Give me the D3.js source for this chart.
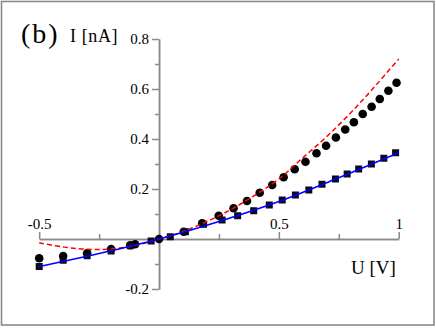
<!DOCTYPE html>
<html lang="en">
	<head>
		<meta charset="utf-8">
		<title>I-U curve (b)</title>
		<script type="text/javascript" src="https://cdn.jsdelivr.net/npm/d3@7"></script>
		<style type="text/css">
			body { margin: 0; background: #fff; }
			text { font-family: "Liberation Serif", "DejaVu Serif", serif; fill: #000; }
		</style>
	</head>
	<body>
		<script type="text/javascript">

			// measured points, circles
			var circU = [-0.5, -0.4, -0.3, -0.2, -0.12, -0.1, 0, 0.103, 0.18, 0.249, 0.311, 0.367, 0.42, 0.472,
				0.52, 0.566, 0.611, 0.657, 0.697, 0.738, 0.777, 0.813, 0.85, 0.887, 0.921, 0.957, 0.991];
			var circI = [-0.077, -0.068, -0.057, -0.04, -0.025, -0.021, 0, 0.029, 0.063, 0.093, 0.123, 0.152, 0.185, 0.216,
				0.247, 0.279, 0.309, 0.343, 0.373, 0.406, 0.438, 0.467, 0.5, 0.529, 0.56, 0.593, 0.625];

			// measured points, squares
			var sqU = [-0.5, -0.4, -0.3, -0.2, -0.12, -0.033, 0.047, 0.11, 0.186, 0.263, 0.328, 0.395, 0.46,
				0.514, 0.569, 0.625, 0.68, 0.736, 0.785, 0.833, 0.886, 0.938, 0.987];
			var sqI = [-0.11, -0.085, -0.067, -0.048, -0.027, -0.008, 0.009, 0.029, 0.059, 0.076, 0.093, 0.113, 0.136,
				0.156, 0.176, 0.196, 0.219, 0.24, 0.26, 0.28, 0.3, 0.323, 0.345];

			// fit curves
			var redU = [-0.5, -0.4, -0.3, -0.2, -0.1, 0, 0.1, 0.2, 0.3, 0.4, 0.5, 0.6, 0.7, 0.8, 0.9, 1.0];
			var redI = [-0.015, -0.032, -0.041, -0.04, -0.026, 0, 0.03, 0.07, 0.118, 0.175, 0.24, 0.325, 0.41, 0.505, 0.61, 0.72];
			var blueU = [-0.5, -0.25, 0, 0.25, 0.5, 0.75, 1.0];
			var blueI = [-0.11, -0.058, 0, 0.07, 0.15, 0.245, 0.345];

			var xMajor = [-0.5, 0.5, 1];
			var xMinor = [-0.25, 0, 0.25, 0.75];
			var yMajor = [-0.2, 0.2, 0.4, 0.6, 0.8];
			var yMinor = [-0.1, 0.1, 0.3, 0.5, 0.7];

			var w = 436;
			var h = 328;

			var xScale = d3.scaleLinear().domain([-0.5, 1]).range([39.2, 398.7]);
			var yScale = d3.scaleLinear().domain([-0.2, 0.8]).range([289, 39]);

			var svg = d3.select("body")
						.append("svg")
						.attr("width", w)
						.attr("height", h);

			//frame
			svg.append("rect")
				.attr("x", 1.5).attr("y", 1.5)
				.attr("width", 432.5).attr("height", 323.5)
				.attr("fill", "none")
				.attr("stroke", "#8a8a8a")
				.attr("stroke-width", 1.6);

			function fmt(d) { return String(d); }

			//Y axis
			var yAxis = d3.axisLeft(yScale).tickValues(yMajor).tickSize(7).tickSizeOuter(0).tickFormat(fmt);
			var yAxisMinor = d3.axisLeft(yScale).tickValues(yMinor).tickSize(4).tickSizeOuter(0).tickFormat("");
			svg.append("g").attr("transform", "translate(" + xScale(0) + ",0)").call(yAxis);
			svg.append("g").attr("transform", "translate(" + xScale(0) + ",0)").call(yAxisMinor);

			//X axis
			var xAxis = d3.axisTop(xScale).tickValues(xMajor).tickSize(7).tickSizeOuter(0).tickFormat(fmt);
			var xAxisMinor = d3.axisTop(xScale).tickValues(xMinor).tickSize(5).tickSizeOuter(0).tickFormat("");
			svg.append("g").attr("transform", "translate(0," + yScale(0) + ")").call(xAxis);
			svg.append("g").attr("transform", "translate(0," + yScale(0) + ")").call(xAxisMinor);

			svg.selectAll(".domain, .tick line")
				.attr("stroke", "#8a8a8a")
				.attr("stroke-width", 1.5);
			svg.selectAll(".tick text")
				.style("font-family", "'Liberation Serif', serif")
				.style("font-size", "15px")
				.attr("fill", "#000");

			//markers
			var circles = circU.map(function(u, i) { return [u, circI[i]]; });
			var squares = sqU.map(function(u, i) { return [u, sqI[i]]; });

			svg.selectAll("circle.pt")
				.data(circles)
				.enter()
				.append("circle")
				.attr("class", "pt")
				.attr("cx", function(d) { return xScale(d[0]); })
				.attr("cy", function(d) { return yScale(d[1]); })
				.attr("r", 4.3)
				.attr("fill", "#000");

			svg.selectAll("rect.pt")
				.data(squares)
				.enter()
				.append("rect")
				.attr("class", "pt")
				.attr("x", function(d) { return xScale(d[0]) - 3.5; })
				.attr("y", function(d) { return yScale(d[1]) - 3.5; })
				.attr("width", 7)
				.attr("height", 7)
				.attr("fill", "#0a0a1a");

			//curves
			var line = d3.line()
				.x(function(d) { return xScale(d[0]); })
				.y(function(d) { return yScale(d[1]); })
				.curve(d3.curveCatmullRom);

			svg.append("path")
				.datum(redU.map(function(u, i) { return [u, redI[i]]; }))
				.attr("d", line)
				.attr("fill", "none")
				.attr("stroke", "#ff0000")
				.attr("stroke-width", 1.5)
				.attr("stroke-dasharray", "5,3");

			svg.append("path")
				.datum(blueU.map(function(u, i) { return [u, blueI[i]]; }))
				.attr("d", line)
				.attr("fill", "none")
				.attr("stroke", "#0000ff")
				.attr("stroke-width", 1.5);

			//labels
			svg.append("text").attr("x", 21).attr("y", 43).style("font-size", "28px").style("letter-spacing", "2px").text("(b)");
			svg.append("text").attr("x", 70).attr("y", 42).style("font-size", "18px").style("letter-spacing", "0.6px").text("I [nA]");
			svg.append("text").attr("x", 351).attr("y", 274).style("font-size", "19px").text("U [V]");

		</script>
	</body>
</html>
